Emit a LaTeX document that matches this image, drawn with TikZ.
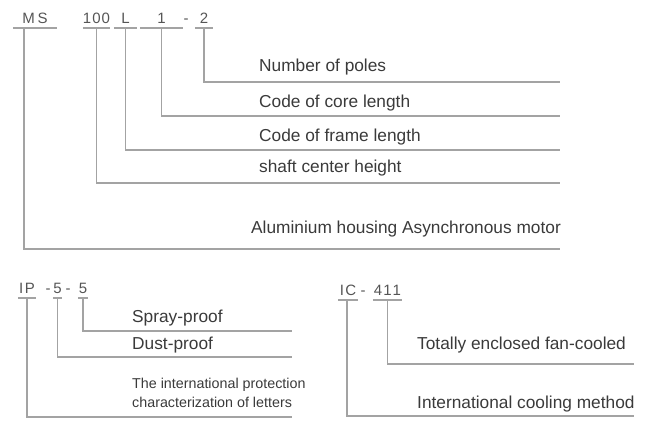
\documentclass[tikz,border=0pt]{standalone}
\usepackage{fontspec}
\setmainfont{Liberation Sans}
\usetikzlibrary{positioning}
\definecolor{linegray}{HTML}{A3A3A3}
\definecolor{textgray}{HTML}{3A3A3A}
\definecolor{codegray}{HTML}{555555}

\begin{document}
\begin{tikzpicture}[x=1pt, y=-1pt,
  code/.style={anchor=south, inner xsep=0pt, inner ysep=4.5pt, text=codegray, font=\fontsize{15}{15}\selectfont},
  sep/.style={anchor=base, inner sep=0pt, text=codegray, font=\fontsize{15}{15}\selectfont},
  desc/.style={anchor=base west, inner sep=0pt, text=textgray, font=\fontsize{17.3}{19}\selectfont},
  lead/.style={draw=linegray, line width=1.3pt}]
  \useasboundingbox (0,0) rectangle (662,434);

  % motor type code
  \node[code, minimum width=44pt] (ms) at (35,28) {M\kern3pt S};
  \node[code, minimum width=23pt] (hundred) at (96.5,28) {1\kern1pt 0\kern1pt 0};
  \node[code, minimum width=23pt] (ell) at (125.5,28) {L};
  \node[code, minimum width=43pt] (one) at (161.5,28) {1};
  \node[sep] (dashone) at (186,23.5) {-};
  \node[code, minimum width=18pt] (two) at (204,28) {2};
  \foreach \n in {ms, hundred, ell, one, two}
    \draw[lead] (\n.south west) -- (\n.south east);

  \node[desc] (poles) at (259,71) {Number of poles};
  \node[desc] (core) at (259,107) {Code of core length};
  \node[desc] (frame) at (259,141) {Code of frame length};
  \node[desc] (shaft) at (259,172) {shaft center height};
  \node[desc] (housing) at (251,233) {Aluminium housing Asynchronous motor};

  \coordinate (polesend) at (560,82);
  \coordinate (coreend) at (560,116);
  \coordinate (frameend) at (560,150);
  \coordinate (shaftend) at (560,183);
  \coordinate (housingend) at (560,249);

  \draw[lead] (two.south) |- (polesend);
  \draw[lead] (one.south) |- (coreend);
  \draw[lead] (ell.south) |- (frameend);
  \draw[lead] (hundred.south) |- (shaftend);
  \draw[lead] ([xshift=-11pt]ms.south) |- (housingend);

  % protection code
  \node[code, minimum width=18pt] (ip) at (27,298) {I\kern1.5pt P};
  \node[sep] (daship) at (48,293.5) {-};
  \node[code, minimum width=9pt] (dust) at (57.5,298) {5};
  \node[sep] (dashdust) at (68,293.5) {-};
  \node[code, minimum width=10pt] (spray) at (83,298) {5};
  \foreach \n in {ip, dust, spray}
    \draw[lead] (\n.south west) -- (\n.south east);

  \node[desc] (sprayproof) at (132,322) {Spray-proof};
  \node[desc] (dustproof) at (132,349) {Dust-proof};
  \node[desc, align=left, font=\fontsize{14.3}{19}\selectfont] (letters) at (132,407)
    {The international protection\\characterization of letters};

  \coordinate (sprayend) at (292,331);
  \coordinate (dustend) at (292,357);
  \coordinate (lettersend) at (292,417);

  \draw[lead] (spray.south) |- (sprayend);
  \draw[lead] (dust.south) |- (dustend);
  \draw[lead] (ip.south) |- (lettersend);

  % cooling code
  \node[code, minimum width=20pt] (ic) at (348,300) {I\kern1.5pt C};
  \node[sep] (dashic) at (363,295.5) {-};
  \node[code, minimum width=29pt] (fouroneone) at (387.5,300) {4\kern1pt 1\kern1pt 1};
  \foreach \n in {ic, fouroneone}
    \draw[lead] (\n.south west) -- (\n.south east);

  \node[desc] (fan) at (417,349) {Totally enclosed fan-cooled};
  \node[desc] (cooling) at (417,408) {International cooling method};

  \coordinate (fanend) at (634,364);
  \coordinate (coolingend) at (634,416);

  \draw[lead] (fouroneone.south) |- (fanend);
  \draw[lead] ([xshift=-1pt]ic.south) |- (coolingend);
\end{tikzpicture}
\end{document}
